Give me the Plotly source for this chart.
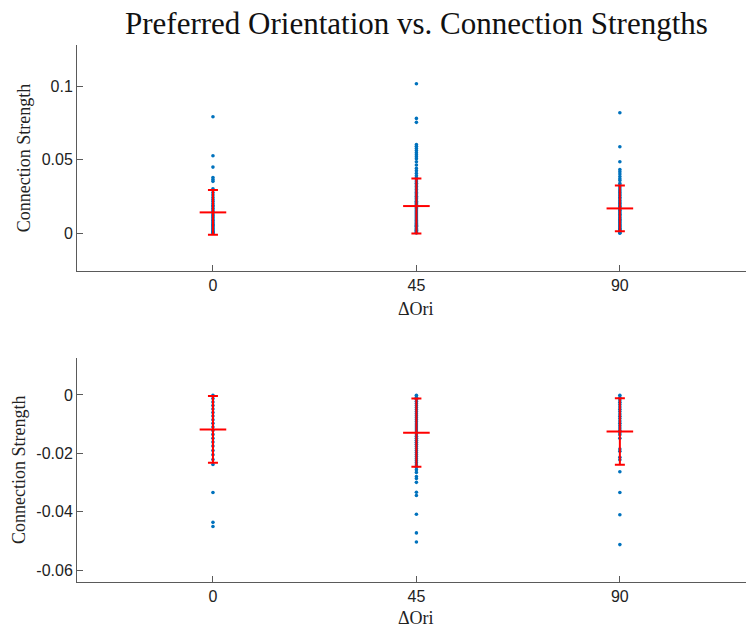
import plotly.graph_objects as go

# Orientation-difference groups (degrees)
ori_groups = [0, 45, 90]
ori_ticks = ["0", "45", "90"]

# Excitatory connection strengths per group
exc_0 = [0.0793, 0.0528, 0.0451, 0.0380, 0.0367, 0.0354, 0.0304,
         0.0278, 0.0262, 0.0245, 0.0231, 0.0218, 0.0204, 0.0192, 0.0183,
         0.0171, 0.0160, 0.0149, 0.0138, 0.0127, 0.0118, 0.0109, 0.0098,
         0.0089, 0.0080, 0.0071, 0.0063, 0.0055, 0.0047, 0.0039, 0.0031,
         0.0024, 0.0017, 0.0011, 0.0006, 0.0002]
exc_45 = [0.1018, 0.0782, 0.0755, 0.0605, 0.0592, 0.0578, 0.0564, 0.0549,
          0.0535, 0.0521, 0.0508, 0.0487, 0.0465, 0.0442, 0.0426, 0.0408,
          0.0392, 0.0378, 0.0364, 0.0352, 0.0341, 0.0330, 0.0319, 0.0309,
          0.0298, 0.0288, 0.0279, 0.0270, 0.0261, 0.0252, 0.0243, 0.0235,
          0.0227, 0.0219, 0.0211, 0.0203, 0.0196, 0.0189, 0.0181, 0.0174,
          0.0167, 0.0160, 0.0153, 0.0146, 0.0139, 0.0132, 0.0125, 0.0118,
          0.0112, 0.0105, 0.0098, 0.0092, 0.0086, 0.0079, 0.0073, 0.0067,
          0.0061, 0.0055, 0.0049, 0.0043, 0.0037, 0.0031, 0.0026, 0.0021,
          0.0016, 0.0011, 0.0007, 0.0003]
exc_90 = [0.0820, 0.0589, 0.0487, 0.0435, 0.0420, 0.0404, 0.0387, 0.0372,
          0.0360, 0.0340, 0.0328, 0.0315, 0.0302, 0.0290, 0.0279, 0.0268,
          0.0257, 0.0246, 0.0235, 0.0224, 0.0214, 0.0204, 0.0194, 0.0184,
          0.0175, 0.0166, 0.0157, 0.0148, 0.0139, 0.0130, 0.0121, 0.0112,
          0.0104, 0.0096, 0.0088, 0.0080, 0.0072, 0.0064, 0.0057, 0.0050,
          0.0043, 0.0036, 0.0029, 0.0022, 0.0016, 0.0010, 0.0005, 0.0001]

# Inhibitory connection strengths per group
inh_0 = [-0.0001, -0.0012, -0.0024, -0.0036, -0.0048, -0.0060, -0.0072,
         -0.0085, -0.0097, -0.0110, -0.0122, -0.0135, -0.0148, -0.0161,
         -0.0175, -0.0190, -0.0205, -0.0221, -0.0238, -0.0334, -0.0436,
         -0.0450]
inh_45 = [-0.0001, -0.0008, -0.0015, -0.0022, -0.0029, -0.0036, -0.0043,
          -0.0050, -0.0057, -0.0064, -0.0071, -0.0078, -0.0085, -0.0092,
          -0.0099, -0.0106, -0.0113, -0.0120, -0.0127, -0.0134, -0.0141,
          -0.0148, -0.0155, -0.0162, -0.0169, -0.0176, -0.0183, -0.0190,
          -0.0197, -0.0204, -0.0211, -0.0218, -0.0225, -0.0232, -0.0240,
          -0.0248, -0.0256, -0.0265, -0.0279, -0.0286, -0.0299, -0.0333,
          -0.0344, -0.0408, -0.0472, -0.0503]
inh_90 = [-0.0001, -0.0009, -0.0017, -0.0025, -0.0033, -0.0041, -0.0049,
          -0.0057, -0.0065, -0.0073, -0.0081, -0.0089, -0.0097, -0.0105,
          -0.0113, -0.0121, -0.0129, -0.0136, -0.0148, -0.0185, -0.0193,
          -0.0213, -0.0222, -0.0263, -0.0334, -0.0410, -0.0512]

# Group means and standard deviations
exc_mean = [0.0143, 0.0186, 0.0170]
exc_std = [0.0152, 0.0187, 0.0155]
inh_mean = [-0.0118, -0.0129, -0.0125]
inh_std = [0.0114, 0.0117, 0.0114]

DOT = "#0072BD"
RED = "#FF0000"
AXC = "#5a5a5a"
SERIF = "Liberation Serif, Times New Roman, serif"
SANS = "Liberation Sans, Arial, Helvetica, sans-serif"

fig = go.Figure()


def add_panel(groups, mean, std, xa, ya):
    for g, vals in zip(ori_groups, groups):
        fig.add_trace(go.Scatter(
            x=[g] * len(vals), y=vals, mode="markers",
            marker=dict(color=DOT, size=3.6, line=dict(width=0)),
            xaxis=xa, yaxis=ya, showlegend=False, hoverinfo="y"))
    fig.add_trace(go.Scatter(
        x=ori_groups, y=mean, mode="markers",
        marker=dict(symbol="line-ew", size=19, color=RED,
                    line=dict(color=RED, width=2)),
        error_y=dict(type="data", array=std, visible=True,
                     color=RED, thickness=2, width=5),
        xaxis=xa, yaxis=ya, showlegend=False))


add_panel([exc_0, exc_45, exc_90], exc_mean, exc_std, "x", "y")
add_panel([inh_0, inh_45, inh_90], inh_mean, inh_std, "x2", "y2")

xcommon = dict(
    range=[-30.07, 117.9], tickvals=ori_groups, ticktext=ori_ticks,
    showline=True, linecolor=AXC, linewidth=1, ticks="inside",
    ticklen=6, tickcolor=AXC, showgrid=False, zeroline=False,
    tickfont=dict(family=SANS, size=16, color="#222"))
ycommon = dict(
    showline=True, linecolor=AXC, linewidth=1, ticks="inside",
    ticklen=6, tickcolor=AXC, showgrid=False, zeroline=False,
    tickfont=dict(family=SANS, size=16, color="#222"),
    title=dict(text="Connection Strength",
               font=dict(family=SERIF, size=18, color="#222"), standoff=6))

fig.update_layout(
    width=746, height=627,
    margin=dict(l=77, r=0, t=45, b=45),
    plot_bgcolor="white", paper_bgcolor="white",
    xaxis=dict(domain=[0, 1], anchor="y", **xcommon),
    yaxis=dict(domain=[0.579, 1], anchor="x", range=[-0.0256, 0.1281],
               tickvals=[0, 0.05, 0.1], ticktext=["0", "0.05", "0.1"],
               **ycommon),
    xaxis2=dict(domain=[0, 1], anchor="y2", **xcommon),
    yaxis2=dict(domain=[0, 0.418], anchor="x2", range=[-0.064, 0.0128],
                tickvals=[-0.06, -0.04, -0.02, 0],
                ticktext=["-0.06", "-0.04", "-0.02", "0"], **ycommon),
    annotations=[
        dict(text="Preferred Orientation vs. Connection Strengths",
             xref="x", yref="paper", x=45, y=1, yshift=22,
             xanchor="center", yanchor="middle", showarrow=False,
             font=dict(family=SERIF, size=31, color="#111")),
        dict(text="ΔOri", xref="x", yref="paper", x=45, y=0.579,
             yshift=-38, xanchor="center", yanchor="middle",
             showarrow=False, font=dict(family=SERIF, size=18, color="#222")),
        dict(text="ΔOri", xref="x2", yref="paper", x=45, y=0,
             yshift=-36, xanchor="center", yanchor="middle",
             showarrow=False, font=dict(family=SERIF, size=18, color="#222")),
    ],
)

fig.write_html("out.html")
